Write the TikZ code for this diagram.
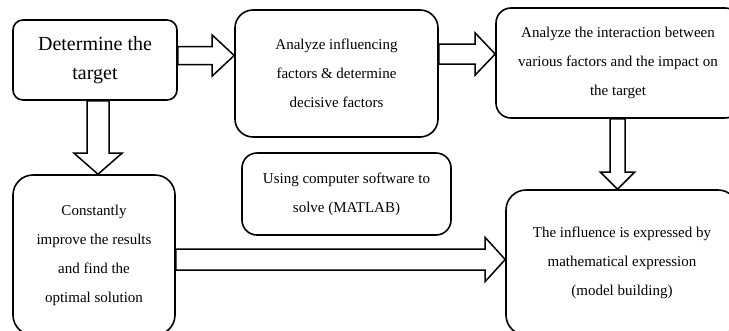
\documentclass[tikz,border=0pt]{standalone}
\usepackage{fontspec}
\setmainfont{Liberation Serif}
\usetikzlibrary{calc}
\tikzset{
  box/.style={draw=black, line width=1.6pt, inner sep=0pt, align=center,
    font=\fontsize{15}{29}\selectfont, fill=white},
  barrow/.style={draw=black, line width=1.5pt, line join=miter}
}
% horizontal block arrow: start, tip, shaft half, head half, head length
\newcommand\hblock[5]{%
  \draw[barrow] let \p1=(#1), \p2=(#2) in
    (\x1,\y1+#3pt) -- (\x2-#5pt,\y1+#3pt) -- (\x2-#5pt,\y1+#4pt) -- (\x2,\y1)
    -- (\x2-#5pt,\y1-#4pt) -- (\x2-#5pt,\y1-#3pt) -- (\x1,\y1-#3pt) -- cycle;}
% vertical (downward) block arrow
\newcommand\vblock[5]{%
  \draw[barrow] let \p1=(#1), \p2=(#2) in
    (\x1-#3pt,\y1) -- (\x1-#3pt,\y2+#5pt) -- (\x1-#4pt,\y2+#5pt) -- (\x1,\y2)
    -- (\x1+#4pt,\y2+#5pt) -- (\x1+#3pt,\y2+#5pt) -- (\x1+#3pt,\y1) -- cycle;}
\begin{document}
\begin{tikzpicture}[x=1pt,y=-1pt]
\useasboundingbox (0,0) rectangle (729,330);
\clip (0,0) rectangle (729,330);

\node[box, minimum width=164pt, minimum height=80pt, rounded corners=10pt,
  font=\fontsize{20}{29}\selectfont] (A) at (95,60) {Determine the\\target};
\node[box, minimum width=203pt, minimum height=127pt, rounded corners=18pt] (B) at (336.5,73.5)
  {Analyze influencing\\factors \& determine\\decisive factors};
\node[box, minimum width=244pt, minimum height=110pt, rounded corners=15pt] (C) at (618,63)
  {Analyze the interaction between\\various factors and the impact on\\the target};
\node[box, minimum width=162pt, minimum height=160pt, rounded corners=20pt] (D) at (94,255)
  {Constantly\\improve the results\\and find the\\optimal solution};
\node[box, minimum width=232pt, minimum height=145pt, rounded corners=20pt] (E) at (622,262.5)
  {The influence is expressed by\\mathematical expression\\(model building)};
\node[box, minimum width=209pt, minimum height=82pt, rounded corners=15pt] (F) at (346.5,194)
  {Using computer software to\\solve (MATLAB)};

\coordinate (y55) at (0,55.5);
\coordinate (y54) at (0,54);
\coordinate (y259) at (0,259.5);
\coordinate (x618) at (617.5,0);
\coordinate (x98) at (98,0);

\hblock{A.east |- y55}{B.west |- y55}{9}{20.5}{22}
\hblock{B.east |- y54}{C.west |- y54}{10}{21}{20}
\hblock{D.east |- y259}{E.west |- y259}{10.5}{22}{20}
\vblock{x618 |- C.south}{x618 |- E.north}{7.5}{17}{17}
\vblock{x98 |- A.south}{x98 |- D.north}{11}{24}{21}
\end{tikzpicture}
\end{document}
